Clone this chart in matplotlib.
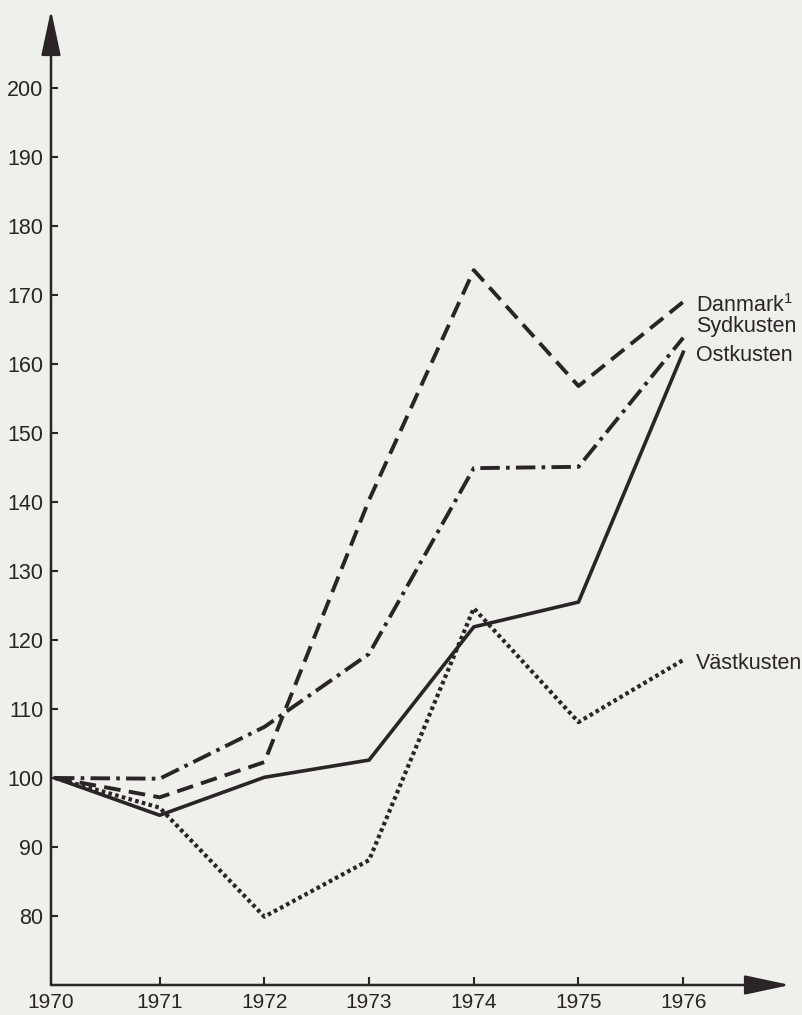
#!/usr/bin/env python3
"""
Price index 1970-1976, four regions (index 1970 = 100)
"""

import matplotlib
matplotlib.use('Agg')  # Use non-interactive backend
import matplotlib.pyplot as plt

# Data
years = [1970, 1971, 1972, 1973, 1974, 1975, 1976]
danmark = [100, 97.2, 102.3, 140.3, 173.6, 156.8, 169.0]
sydkusten = [100, 99.9, 107.4, 118.0, 144.9, 145.1, 163.8]
ostkusten = [100, 94.6, 100.1, 102.6, 121.9, 125.5, 161.7]
vastkusten = [100, 95.7, 79.9, 88.1, 124.6, 108.1, 117.1]
y_ticks = [80, 90, 100, 110, 120, 130, 140, 150, 160, 170, 180, 190, 200]

INK = '#2a2427'
PAPER = '#efefeb'

plt.rcParams['font.family'] = ['Liberation Sans', 'DejaVu Sans']
plt.rcParams['mathtext.fontset'] = 'custom'
plt.rcParams['mathtext.rm'] = 'Liberation Sans'
plt.rcParams['lines.scale_dashes'] = False

fig = plt.figure(figsize=(8.02, 10.15), dpi=100, facecolor=PAPER)
ax = fig.add_axes([51 / 802, 1 - 985 / 1015, 739 / 802, 975 / 1015])
ax.set_facecolor(PAPER)

# Series
ax.plot(years, danmark, color=INK, lw=2.8, linestyle=(0, (12, 6)),
        dash_capstyle='butt')
ax.plot(years, sydkusten, color=INK, lw=2.8, linestyle=(0, (14, 4.5, 2.6, 4.5)),
        dash_capstyle='butt')
ax.plot(years, ostkusten, color=INK, lw=2.6)
ax.plot(years, vastkusten, color=INK, lw=3.0, linestyle=(0, (2.6, 2.4)),
        dash_capstyle='butt')

# Line labels
label_x = 1976.12
lab = dict(fontsize=15.5, color=INK, va='baseline')
ax.text(label_x, 167.6, r'Danmark$^{\mathrm{1}}$', **lab)
ax.text(label_x, 164.7, 'Sydkusten', **lab)
ax.text(label_x, 160.4, 'Ostkusten', **lab)
ax.text(label_x, 115.8, 'Västkusten', **lab)

# Axes with arrow heads
x_left = 1969.962
ax.set_xlim(x_left, 1977.02)
ax.set_ylim(70, 211.3)
for s in ax.spines.values():
    s.set_visible(False)
arrow = dict(arrowstyle='-|>,head_length=1.4,head_width=0.3', lw=1.8,
             color=INK, mutation_scale=20, shrinkA=0, shrinkB=0)
ax.annotate('', xy=(0, 1), xytext=(0, 0), xycoords='axes fraction',
            arrowprops=arrow, annotation_clip=False)
ax.annotate('', xy=(1, 0), xytext=(0, 0), xycoords='axes fraction',
            arrowprops=arrow, annotation_clip=False)

ax.set_xticks(years[1:])
ax.set_xticklabels([str(y) for y in years[1:]])
ax.set_yticks(y_ticks)
ax.set_yticklabels([str(v) for v in y_ticks])
ax.tick_params(axis='both', direction='in', color=INK, width=1.5,
               labelcolor=INK)
ax.tick_params(axis='x', length=6, pad=6, labelsize=15)
ax.tick_params(axis='y', length=5, pad=5.5, labelsize=15.5)
# 1970 label sits under the corner of the axes
ax.text(x_left, -0.0085, '1970', transform=ax.get_xaxis_transform(),
        fontsize=15, color=INK, ha='center', va='top')

plt.savefig('out.png', dpi=100, facecolor=PAPER)
plt.close()
